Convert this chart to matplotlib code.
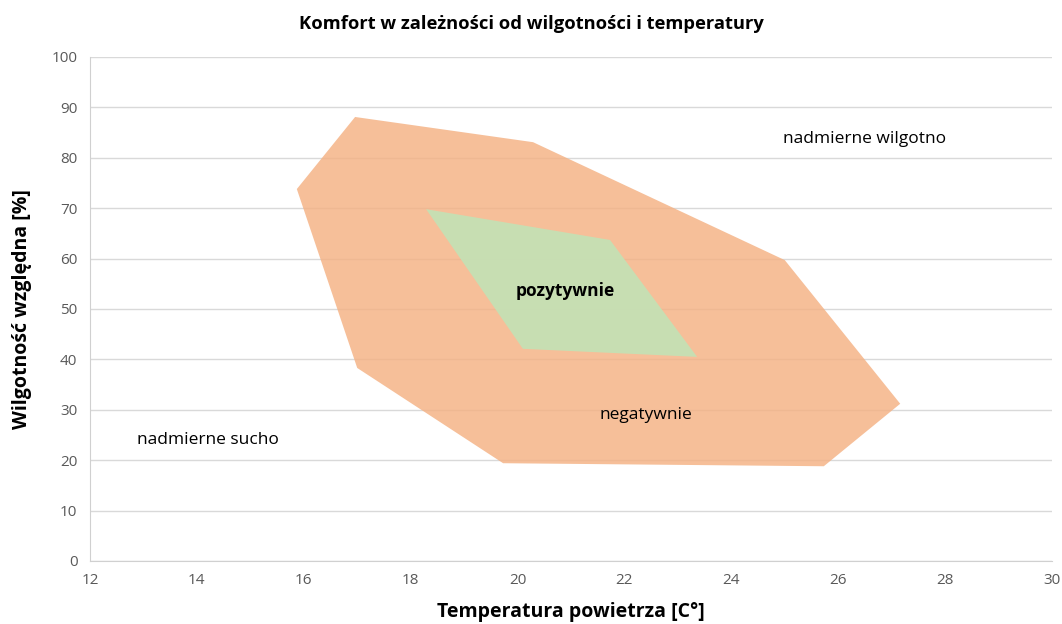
import matplotlib.pyplot as plt
from matplotlib.patches import Polygon

# outer "negatywnie" region vertices (temperature, humidity)
outer_t = [15.87, 16.96, 20.29, 25.0, 27.16, 25.73, 19.73, 17.0]
outer_h = [73.8, 88.1, 83.1, 59.7, 31.2, 18.8, 19.4, 38.3]

# inner "pozytywnie" region vertices
inner_t = [18.29, 21.73, 23.36, 20.1]
inner_h = [69.8, 63.7, 40.5, 42.1]

plt.rcParams['font.family'] = ['Open Sans', 'DejaVu Sans']

fig = plt.figure(figsize=(10.62, 6.24), dpi=100)
ax = fig.add_axes([90/1062, 1-561/624, 962/1062, 504/624])

ax.add_patch(Polygon(list(zip(outer_t, outer_h)), closed=True, fc="#F4B183", ec="none", alpha=0.82, zorder=2))
ax.add_patch(Polygon(list(zip(inner_t, inner_h)), closed=True, fc="#C5E0B4", ec="none", alpha=0.95, zorder=3))

ax.set_xlim(12, 30)
ax.set_ylim(0, 100)
ax.set_xticks(range(12, 31, 2))
ax.set_yticks(range(0, 101, 10))
ax.grid(axis="y", color="#d9d9d9", lw=1, zorder=1)
ax.set_axisbelow(True)
for s in ["top", "right"]:
    ax.spines[s].set_visible(False)
for s in ["left", "bottom"]:
    ax.spines[s].set_color("#d0d0d0")
ax.tick_params(length=0, labelsize=11, labelcolor="#595959", pad=9)

ax.text(26.5, 83.7, "nadmierne wilgotno", fontsize=12.5, ha="center", va="center", zorder=5)
ax.text(14.2, 24, "nadmierne sucho", fontsize=12.5, ha="center", va="center", zorder=5)
ax.text(22.4, 29, "negatywnie", fontsize=12.5, ha="center", va="center", zorder=5)
ax.text(20.9, 53.6, "pozytywnie", fontsize=12.5, fontweight="bold", ha="center", va="center", zorder=5)

fig.text(0.5, 1-24/624, "Komfort w zależności od wilgotności i temperatury", fontsize=13.2, fontweight="bold", ha="center", va="center")
ax.set_xlabel("Temperatura powietrza [C°]", fontsize=14, fontweight="bold", labelpad=10)
ax.set_ylabel("Wilgotność względna [%]", fontsize=14, fontweight="bold", labelpad=14)

plt.savefig("out.png", dpi=100)
